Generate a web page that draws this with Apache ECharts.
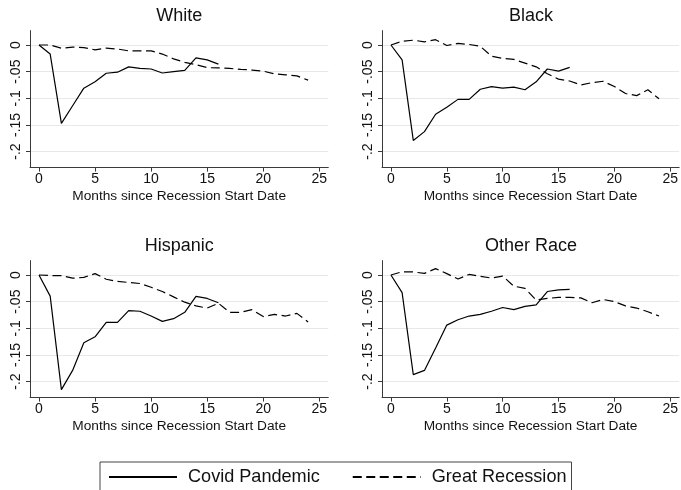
<!DOCTYPE html>
<html>
<head>
<meta charset="utf-8">
<script src="https://cdn.jsdelivr.net/npm/echarts@6/dist/echarts.min.js"></script>
<style>
html,body{margin:0;padding:0;background:#fff;}
#c{width:681px;height:490px;}
</style>
</head>
<body>
<div id="c"></div>
<script>
// ---- Data ----
const panelTitles = ['White', 'Black', 'Hispanic', 'Other Race'];
const covidMonths = [0,1,2,3,4,5,6,7,8,9,10,11,12,13,14,15,16];
const recessionMonths = [0,1,2,3,4,5,6,7,8,9,10,11,12,13,14,15,16,17,18,19,20,21,22,23,24];

const whiteCovid = [0,-0.017,-0.147,-0.114,-0.081,-0.069,-0.053,-0.051,-0.041,-0.044,-0.045,-0.0525,-0.050,-0.0475,-0.024,-0.028,-0.036];
const whiteRecession = [0,0,-0.006,-0.004,-0.005,-0.009,-0.006,-0.0075,-0.011,-0.011,-0.011,-0.017,-0.026,-0.0325,-0.037,-0.0425,-0.043,-0.044,-0.0456,-0.047,-0.049,-0.054,-0.056,-0.058,-0.066];

const blackCovid = [0,-0.028,-0.179,-0.1625,-0.130,-0.117,-0.102,-0.102,-0.083,-0.078,-0.081,-0.079,-0.084,-0.069,-0.045,-0.049,-0.042];
const blackRecession = [0,0.007,0.009,0.006,0.010,-0.001,0.003,0.001,-0.0025,-0.021,-0.025,-0.027,-0.034,-0.041,-0.054,-0.064,-0.0675,-0.075,-0.0706,-0.068,-0.078,-0.091,-0.095,-0.084,-0.101];

const hispanicCovid = [0,-0.0396,-0.215,-0.179,-0.127,-0.116,-0.089,-0.089,-0.067,-0.068,-0.077,-0.087,-0.082,-0.070,-0.040,-0.044,-0.052];
const hispanicRecession = [0,-0.001,-0.001,-0.006,-0.0045,0.0025,-0.008,-0.012,-0.014,-0.016,-0.023,-0.031,-0.041,-0.051,-0.058,-0.062,-0.053,-0.070,-0.070,-0.065,-0.078,-0.074,-0.077,-0.072,-0.088];

const otherCovid = [0,-0.033,-0.187,-0.179,-0.137,-0.094,-0.084,-0.077,-0.074,-0.068,-0.061,-0.065,-0.059,-0.056,-0.031,-0.028,-0.027];
const otherRecession = [0,0.006,0.0057,0.003,0.012,0.0025,-0.0075,0.001,-0.0025,-0.0057,-0.002,-0.021,-0.025,-0.047,-0.044,-0.042,-0.042,-0.043,-0.052,-0.046,-0.050,-0.058,-0.062,-0.069,-0.077];

const xTicks = [0,5,10,15,20,25];
const yTicks = [0,-0.05,-0.1,-0.15,-0.2];
const xAxisTitle = 'Months since Recession Start Date';
const legendNames = ['Covid Pandemic', 'Great Recession'];

const covidSeries = [whiteCovid, blackCovid, hispanicCovid, otherCovid];
const recessionSeries = [whiteRecession, blackRecession, hispanicRecession, otherRecession];

// ---- Layout ----
const FONT = '"Liberation Sans", Arial, sans-serif';
const grids = [
  {left: 30, top: 30.6, width: 298.3, height: 137},
  {left: 382, top: 30.6, width: 298, height: 137},
  {left: 30, top: 260.6, width: 298.3, height: 137},
  {left: 382, top: 260.6, width: 298, height: 137}
];
const AX = '#3a3a3a';

function fmtY(v) {
  if (v === 0) return '0';
  const s = String(Math.abs(v)).replace(/^0/, '');
  return (v < 0 ? '-' : '') + s;
}

const option = {
  animation: false,
  backgroundColor: '#fff',
  title: grids.map((g, i) => ({
    text: panelTitles[i],
    left: g.left + g.width / 2,
    top: g.top - 24,
    textAlign: 'center',
    padding: 0,
    textStyle: {fontFamily: FONT, fontSize: 18, fontWeight: 'normal', color: '#111'}
  })),
  grid: grids.map(g => Object.assign({containLabel: false}, g)),
  xAxis: grids.map((g, i) => ({
    type: 'value', gridIndex: i, min: -0.8, max: 25.8,
    name: xAxisTitle, nameLocation: 'middle', nameGap: 22,
    nameTextStyle: {fontFamily: FONT, fontSize: 13.7, color: '#111'},
    axisLine: {show: true, onZero: false, lineStyle: {color: AX, width: 1}},
    axisTick: {show: true, length: 4, lineStyle: {color: AX}, customValues: xTicks},
    axisLabel: {fontFamily: FONT, fontSize: 14, color: '#111', margin: 5, customValues: xTicks,
      formatter: v => String(v)},
    splitLine: {show: false}
  })),
  yAxis: grids.map((g, i) => ({
    type: 'value', gridIndex: i, min: -0.23, max: 0.027,
    axisLine: {show: true, onZero: false, lineStyle: {color: AX, width: 1}},
    axisTick: {show: true, length: 4, lineStyle: {color: AX}, customValues: yTicks},
    axisLabel: {fontFamily: FONT, fontSize: 14, color: '#111', margin: 7, rotate: 90, customValues: yTicks,
      formatter: fmtY},
    splitLine: {show: true, lineStyle: {color: '#e8e8e8', width: 1}, customValues: yTicks}
  })),
  legend: {
    data: legendNames,
    left: 100, top: 462,
    orient: 'horizontal',
    itemWidth: 68, itemHeight: 14, itemGap: 32,
    padding: [6, 5, 30, 8],
    borderColor: '#444', borderWidth: 1,
    itemStyle: {color: 'rgba(0,0,0,0)', borderWidth: 0, opacity: 0},
    textStyle: {fontFamily: FONT, fontSize: 18.1, color: '#111', padding: [0, 0, 0, 6]}
  },
  series: []
};

for (let i = 0; i < 4; i++) {
  option.series.push({
    name: legendNames[0], type: 'line', xAxisIndex: i, yAxisIndex: i,
    data: covidMonths.map((m, k) => [m, covidSeries[i][k]]),
    symbol: 'none', lineStyle: {color: '#000', width: 1.2, type: 'solid'},
    itemStyle: {color: '#000'}
  });
  option.series.push({
    name: legendNames[1], type: 'line', xAxisIndex: i, yAxisIndex: i,
    data: recessionMonths.map((m, k) => [m, recessionSeries[i][k]]),
    symbol: 'none', lineStyle: {color: '#000', width: 1.2, type: [9, 4.5]},
    itemStyle: {color: '#000'}
  });
}

const chart = echarts.init(document.getElementById('c'), null, {renderer: 'canvas'});
chart.setOption(option);
</script>
</body>
</html>
